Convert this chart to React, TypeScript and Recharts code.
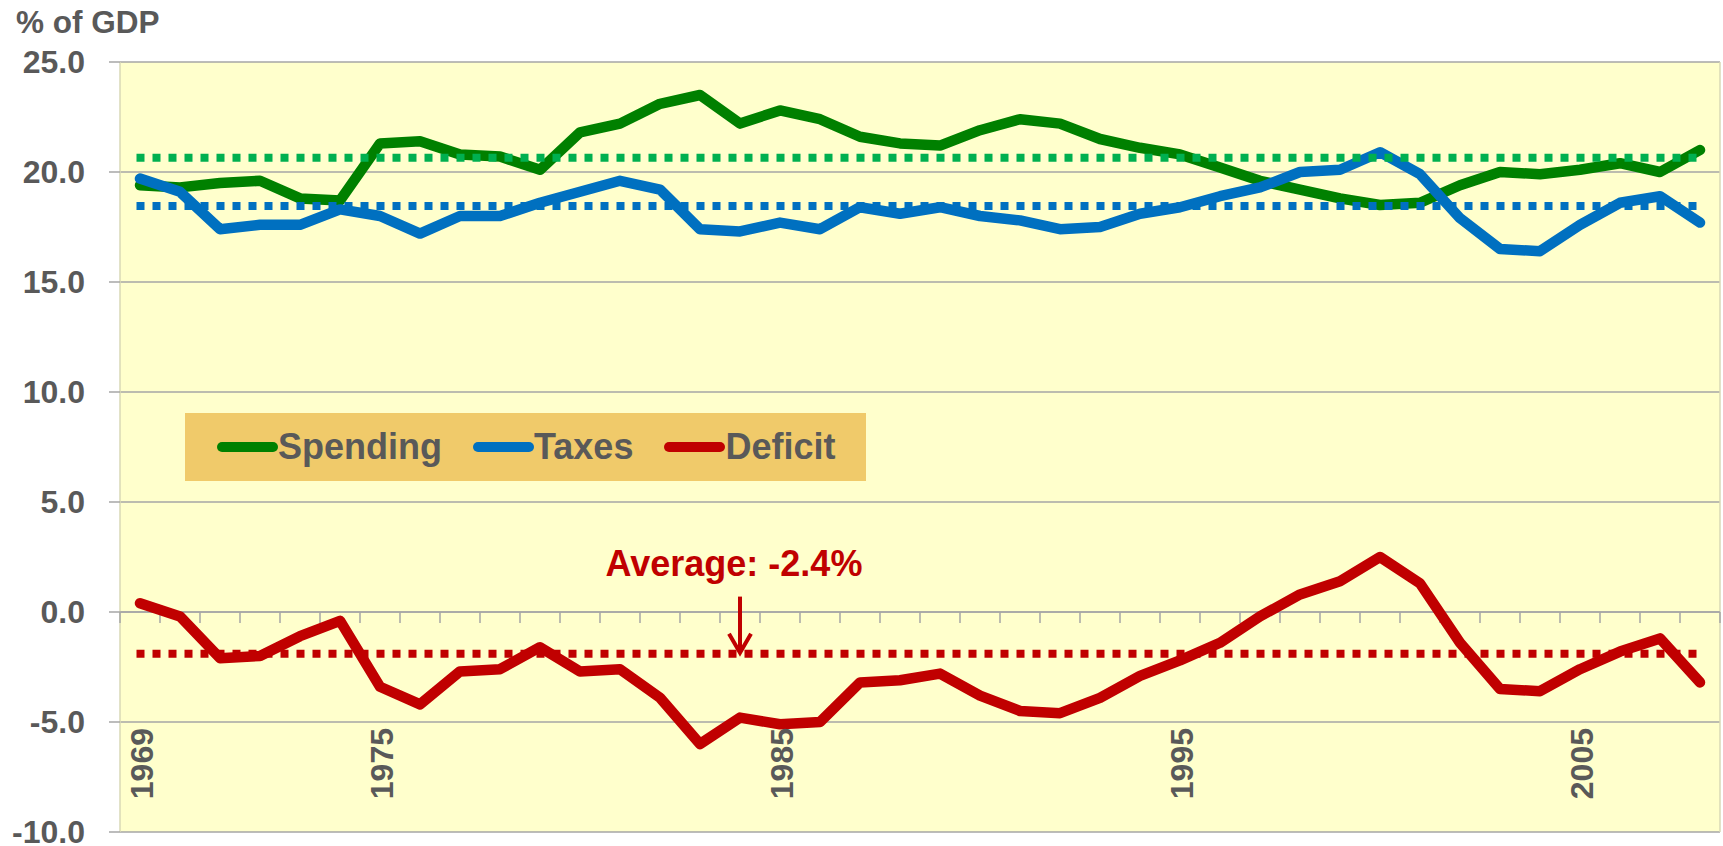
import React from 'react';
import { LineChart, Line, XAxis, YAxis, CartesianGrid, ReferenceLine, Legend } from 'recharts';

const years = [
  '1969', '1970', '1971', '1972', '1973', '1974', '1975', '1976', '1977', '1978',
  '1979', '1980', '1981', '1982', '1983', '1984', '1985', '1986', '1987', '1988',
  '1989', '1990', '1991', '1992', '1993', '1994', '1995', '1996', '1997', '1998',
  '1999', '2000', '2001', '2002', '2003', '2004', '2005', '2006', '2007', '2008',
];
const spending = [
  19.4, 19.3, 19.5, 19.6, 18.8, 18.7, 21.3, 21.4, 20.8, 20.7,
  20.1, 21.8, 22.2, 23.1, 23.5, 22.2, 22.8, 22.4, 21.6, 21.3,
  21.2, 21.9, 22.4, 22.2, 21.5, 21.1, 20.8, 20.2, 19.6, 19.2,
  18.8, 18.5, 18.6, 19.4, 20.0, 19.9, 20.1, 20.4, 20.0, 21.0,
];
const taxes = [
  19.7, 19.1, 17.4, 17.6, 17.6, 18.3, 18.0, 17.2, 18.0, 18.0,
  18.6, 19.1, 19.6, 19.2, 17.4, 17.3, 17.7, 17.4, 18.4, 18.1,
  18.4, 18.0, 17.8, 17.4, 17.5, 18.1, 18.4, 18.9, 19.3, 20.0,
  20.1, 20.9, 19.9, 17.9, 16.5, 16.4, 17.6, 18.6, 18.9, 17.7,
];
const deficit = [
  0.4, -0.2, -2.1, -2.0, -1.1, -0.4, -3.4, -4.2, -2.7, -2.6,
  -1.6, -2.7, -2.6, -3.9, -6.0, -4.8, -5.1, -5.0, -3.2, -3.1,
  -2.8, -3.8, -4.5, -4.6, -3.9, -2.9, -2.2, -1.4, -0.2, 0.8,
  1.4, 2.5, 1.3, -1.4, -3.5, -3.6, -2.6, -1.8, -1.2, -3.2,
];
const spendingAvg = 20.65;
const taxesAvg = 18.45;
const deficitAvg = -1.9;

const seriesNames = ['Spending', 'Taxes', 'Deficit'];
const yTicks = [-10, -5, 0, 5, 10, 15, 20, 25];
const yearLabels = ['1969', '1975', '1985', '1995', '2005'];
const avgNote = 'Average: -2.4%';
const arrowYear = '1984';
const arrowTop = 0.7;
const arrowTip = -1.85;

const data = years.map((year, i) => ({
  year,
  spending: spending[i],
  taxes: taxes[i],
  deficit: deficit[i],
}));

const FONT = "'Liberation Sans', Arial, sans-serif";
const GREY = '#595959';
const GRID = '#A6A6A6';
const firstYear = years[0];
const lastYear = years[years.length - 1];

function YearTick({ x, y, payload }: any) {
  if (!yearLabels.includes(payload.value)) return <g />;
  return (
    <text
      transform={`translate(${x + 13},${y - 104}) rotate(-90)`}
      textAnchor="end"
      fontSize={32}
      fontWeight="bold"
      fill={GREY}
      fontFamily={FONT}
    >
      {payload.value}
    </text>
  );
}

// category axis drawn on the zero line: a tick between every pair of years
function ZeroAxis(props: any) {
  const { x1, x2, y1 } = props;
  const step = (x2 - x1) / (years.length - 1);
  const start = x1 - step / 2;
  return (
    <g>
      <line x1={start} x2={x2 + step / 2} y1={y1} y2={y1} stroke={GRID} strokeWidth={1.5} />
      {years.concat('').map((_, i) => (
        <line key={i} x1={start + i * step} x2={start + i * step} y1={y1} y2={y1 + 11} stroke={GRID} strokeWidth={1.5} />
      ))}
    </g>
  );
}

const dotted = (color: string) => (props: any) => (
  <line
    x1={props.x1 - 3.5}
    x2={props.x2}
    y1={props.y1}
    y2={props.y2}
    stroke={color}
    strokeWidth={8}
    strokeDasharray="8 8"
  />
);

function AvgArrow(props: any) {
  const { x1, y1, y2 } = props;
  return (
    <g>
      <text x={x1 - 6} y={y1 - 21} textAnchor="middle" fontSize={36} fontWeight="bold" fill="#C00000" fontFamily={FONT}>
        {avgNote}
      </text>
      <line x1={x1} x2={x1} y1={y1} y2={y2} stroke="#C00000" strokeWidth={4} />
      <polyline points={`${x1 - 11},${y2 - 19} ${x1},${y2} ${x1 + 11},${y2 - 19}`} fill="none" stroke="#C00000" strokeWidth={4} />
    </g>
  );
}

function LegendBox({ payload }: any) {
  const items = [...(payload || [])].sort(
    (a: any, b: any) => seriesNames.indexOf(a.value) - seriesNames.indexOf(b.value),
  );
  return (
    <div style={{
      width: 681, height: 68, background: '#F0CA6A', display: 'flex', alignItems: 'center',
      paddingLeft: 32, boxSizing: 'border-box', fontFamily: FONT, fontWeight: 'bold', fontSize: 36, color: GREY,
    }}>
      {items.map((entry: any) => (
        <div key={entry.value} style={{ display: 'flex', alignItems: 'center', marginRight: 31 }}>
          <span style={{ width: 61, height: 10, borderRadius: 5, background: entry.color, display: 'inline-block' }} />
          <span style={{ lineHeight: '68px' }}>{entry.value}</span>
        </div>
      ))}
    </div>
  );
}

export default function App() {
  return (
    <div style={{ position: 'absolute', left: 0, top: 0, width: 1723, height: 846, background: '#fff' }}>
      <LineChart width={1723} height={846} data={data} margin={{ top: 62, right: 3, bottom: 0, left: 0 }}>
        <CartesianGrid vertical={false} stroke={GRID} strokeWidth={1.5} fill="#FFFFCC" fillOpacity={1} />
        <CartesianGrid
          horizontal={false}
          stroke="#D8D8B6"
          strokeWidth={1.5}
          verticalCoordinatesGenerator={({ offset }: any) => [offset.left, offset.left + offset.width]}
        />
        <XAxis
          dataKey="year"
          interval={0}
          height={14}
          padding={{ left: 20, right: 20 }}
          tickLine={false}
          axisLine={false}
          tickSize={0}
          tickMargin={0}
          tick={<YearTick />}
        />
        <YAxis
          width={120}
          domain={[-10, 25]}
          ticks={yTicks}
          interval={0}
          axisLine={false}
          tickLine={{ stroke: GRID, strokeWidth: 1.5 }}
          tickSize={11}
          tickMargin={24}
          tickFormatter={(v: number) => v.toFixed(1)}
          tick={{ fontSize: 32, fontWeight: 'bold', fill: GREY, fontFamily: FONT }}
        />
        <ReferenceLine segment={[{ x: firstYear, y: 0 }, { x: lastYear, y: 0 }]} ifOverflow="visible" shape={ZeroAxis} />
        <Legend
          layout="horizontal"
          verticalAlign="middle"
          align="center"
          content={<LegendBox />}
          wrapperStyle={{ position: 'absolute', left: 185, top: 413, width: 681, height: 68 }}
        />
        <Line type="linear" dataKey="spending" name={seriesNames[0]} stroke="#008000" strokeWidth={10.5} dot={false} activeDot={false} strokeLinecap="round" strokeLinejoin="round" isAnimationActive={false} />
        <Line type="linear" dataKey="taxes" name={seriesNames[1]} stroke="#0070C0" strokeWidth={10.5} dot={false} activeDot={false} strokeLinecap="round" strokeLinejoin="round" isAnimationActive={false} />
        <Line type="linear" dataKey="deficit" name={seriesNames[2]} stroke="#C00000" strokeWidth={10.5} dot={false} activeDot={false} strokeLinecap="round" strokeLinejoin="round" isAnimationActive={false} />
        <ReferenceLine segment={[{ x: firstYear, y: spendingAvg }, { x: lastYear, y: spendingAvg }]} ifOverflow="visible" shape={dotted('#00B050')} />
        <ReferenceLine segment={[{ x: firstYear, y: taxesAvg }, { x: lastYear, y: taxesAvg }]} ifOverflow="visible" shape={dotted('#0070C0')} />
        <ReferenceLine segment={[{ x: firstYear, y: deficitAvg }, { x: lastYear, y: deficitAvg }]} ifOverflow="visible" shape={dotted('#C00000')} />
        <ReferenceLine segment={[{ x: arrowYear, y: arrowTop }, { x: arrowYear, y: arrowTip }]} ifOverflow="visible" shape={AvgArrow} />
      </LineChart>
      <svg style={{ position: 'absolute', left: 0, top: 0 }} width={300} height={50}>
        <text x={16} y={33} fontSize={31.5} fontWeight="bold" fill={GREY} fontFamily={FONT}>% of GDP</text>
      </svg>
    </div>
  );
}
